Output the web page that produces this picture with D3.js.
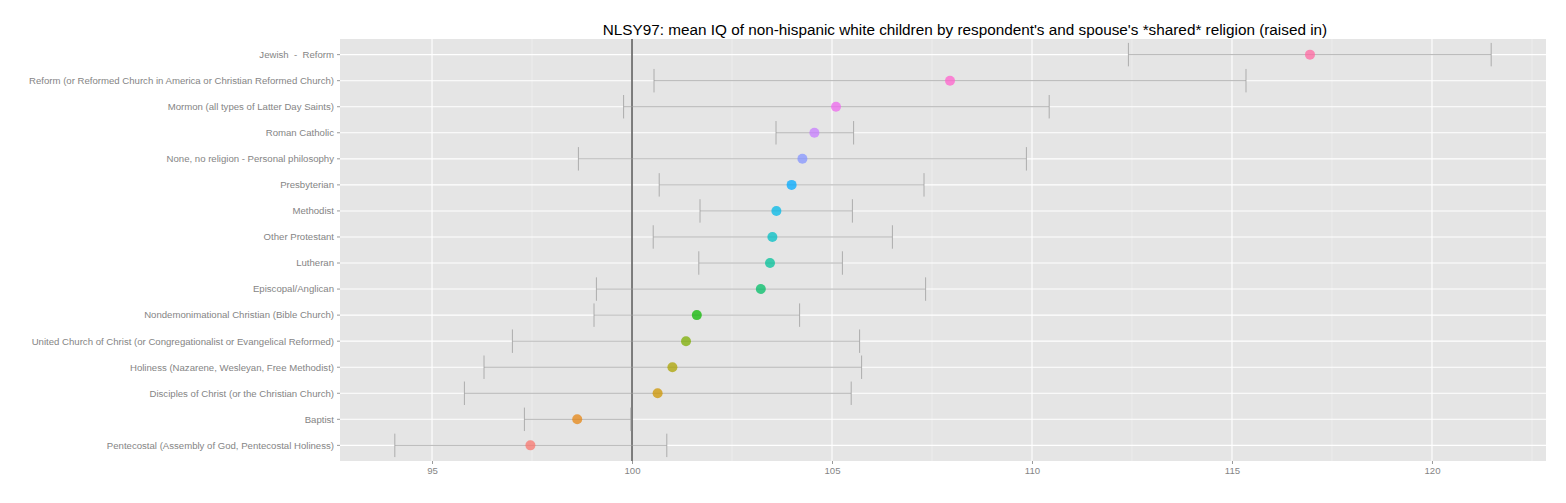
<!DOCTYPE html>
<html>
<head>
<meta charset="utf-8">
<script src="https://cdn.jsdelivr.net/npm/d3@7"></script>
<style>
body{margin:0;background:#fff;}
text{font-family:"Liberation Sans",Arial,sans-serif;white-space:pre;}
</style>
</head>
<body>
<svg id="chart" width="1566" height="503"></svg>
<script>
// religions ordered bottom to top (by mean IQ)
var religions = [
  "Pentecostal (Assembly of God, Pentecostal Holiness)",
  "Baptist",
  "Disciples of Christ (or the Christian Church)",
  "Holiness (Nazarene, Wesleyan, Free Methodist)",
  "United Church of Christ (or Congregationalist or Evangelical Reformed)",
  "Nondemonimational Christian (Bible Church)",
  "Episcopal/Anglican",
  "Lutheran",
  "Other Protestant",
  "Methodist",
  "Presbyterian",
  "None, no religion - Personal philosophy",
  "Roman Catholic",
  "Mormon (all types of Latter Day Saints)",
  "Reform (or Reformed Church in America or Christian Reformed Church)",
  "Jewish  -  Reform"
];
var meanIQ = [97.46, 98.63, 100.64, 101.01, 101.35, 101.62, 103.22, 103.45, 103.51, 103.61, 103.99, 104.26, 104.56, 105.10, 107.95, 116.95];
var lowerIQ = [94.07, 97.31, 95.81, 96.30, 97.01, 99.05, 99.11, 101.67, 100.53, 101.70, 100.68, 98.66, 103.60, 99.79, 100.55, 112.41];
var upperIQ = [100.87, 99.97, 105.48, 105.74, 105.69, 104.19, 107.34, 105.26, 106.51, 105.51, 107.30, 109.86, 105.54, 110.43, 115.35, 121.48];
var xTicks = [95, 100, 105, 110, 115, 120];
var xMinor = [97.5, 102.5, 107.5, 112.5, 117.5, 122.5];
var refLine = 100;
var title = "NLSY97: mean IQ of non-hispanic white children by respondent's and spouse's *shared* religion (raised in)";

var rows = religions.map(function(r, i){
  return {name: r, mean: meanIQ[i], lo: lowerIQ[i], hi: upperIQ[i], idx: i};
});

var svg = d3.select("#chart");
var pLeft = 340, pRight = 1546, pTop = 39, pBottom = 461;

// x range with ggplot style 5% expansion
var lo = d3.min(lowerIQ), hi = d3.max(upperIQ), pad = (hi - lo) * 0.05;
var x = d3.scaleLinear().domain([lo - pad, hi + pad]).range([pLeft, pRight]);

// discrete y with 0.6 unit expansion
var n = religions.length;
var y = d3.scaleLinear().domain([-0.6, n - 1 + 0.6]).range([pBottom, pTop]);

// hue palette like ggplot (polar LUV, c=100, l=65)
function hclLuv(h, c, l){
  var Xn = 95.047, Yn = 100, Zn = 108.883;
  var un = 4 * Xn / (Xn + 15 * Yn + 3 * Zn), vn = 9 * Yn / (Xn + 15 * Yn + 3 * Zn);
  var hr = h * Math.PI / 180, u = c * Math.cos(hr), v = c * Math.sin(hr);
  var Y = Yn * Math.pow((l + 16) / 116, 3);
  var up = u / (13 * l) + un, vp = v / (13 * l) + vn;
  var X = Y * 9 * up / (4 * vp), Z = Y * (12 - 3 * up - 20 * vp) / (4 * vp);
  X /= 100; Y /= 100; Z /= 100;
  var r = 3.2404542 * X - 1.5371385 * Y - 0.4985314 * Z;
  var g = -0.9692660 * X + 1.8760108 * Y + 0.0415560 * Z;
  var b = 0.0556434 * X - 0.2040259 * Y + 1.0572252 * Z;
  function gam(t){ t = t <= 0.0031308 ? 12.92 * t : 1.055 * Math.pow(t, 1 / 2.4) - 0.055; return Math.max(0, Math.min(255, Math.round(t * 255))); }
  return d3.rgb(gam(r), gam(g), gam(b)).toString();
}
var color = function(i){ return hclLuv(15 + 360 * i / n, 100, 65); };

svg.append("rect").attr("x", pLeft).attr("y", pTop).attr("width", pRight - pLeft).attr("height", pBottom - pTop).attr("fill", "#E5E5E5");

// minor grid
svg.selectAll("line.minor").data(xMinor.filter(function(d){ return x(d) < pRight; })).enter().append("line")
  .attr("x1", function(d){ return x(d); }).attr("x2", function(d){ return x(d); })
  .attr("y1", pTop).attr("y2", pBottom).attr("stroke", "#F2F2F2").attr("stroke-width", 0.6);

// major grid
svg.selectAll("line.majx").data(xTicks).enter().append("line")
  .attr("x1", function(d){ return x(d); }).attr("x2", function(d){ return x(d); })
  .attr("y1", pTop).attr("y2", pBottom).attr("stroke", "#fff").attr("stroke-width", 1.1);
svg.selectAll("line.majy").data(rows).enter().append("line")
  .attr("x1", pLeft).attr("x2", pRight)
  .attr("y1", function(d){ return y(d.idx); }).attr("y2", function(d){ return y(d.idx); })
  .attr("stroke", "#fff").attr("stroke-width", 1.1);

// reference line at 100
svg.append("line").attr("x1", x(refLine)).attr("x2", x(refLine)).attr("y1", pTop).attr("y2", pBottom)
  .attr("stroke", "#555").attr("stroke-width", 1.5);

// error bars
var capH = (y(0) - y(1)) * 0.9 / 2;
var eb = svg.append("g").attr("stroke", "#999").attr("stroke-opacity", 0.75).attr("stroke-width", 1);
eb.selectAll("line.bar").data(rows).enter().append("line")
  .attr("x1", function(d){ return x(d.lo); }).attr("x2", function(d){ return x(d.hi); })
  .attr("y1", function(d){ return y(d.idx); }).attr("y2", function(d){ return y(d.idx); });
eb.selectAll("line.capl").data(rows).enter().append("line")
  .attr("x1", function(d){ return x(d.lo); }).attr("x2", function(d){ return x(d.lo); })
  .attr("y1", function(d){ return y(d.idx) - capH; }).attr("y2", function(d){ return y(d.idx) + capH; });
eb.selectAll("line.caph").data(rows).enter().append("line")
  .attr("x1", function(d){ return x(d.hi); }).attr("x2", function(d){ return x(d.hi); })
  .attr("y1", function(d){ return y(d.idx) - capH; }).attr("y2", function(d){ return y(d.idx) + capH; });

// points
svg.selectAll("circle").data(rows).enter().append("circle")
  .attr("cx", function(d){ return x(d.mean); }).attr("cy", function(d){ return y(d.idx); })
  .attr("r", 5).attr("fill", function(d){ return color(d.idx); }).attr("fill-opacity", 0.75);

// y axis labels and ticks
svg.selectAll("line.yt").data(rows).enter().append("line")
  .attr("x1", pLeft - 3).attr("x2", pLeft)
  .attr("y1", function(d){ return y(d.idx); }).attr("y2", function(d){ return y(d.idx); })
  .attr("stroke", "#7f7f7f").attr("stroke-width", 0.8);
svg.selectAll("text.yl").data(rows).enter().append("text")
  .attr("x", pLeft - 6).attr("y", function(d){ return y(d.idx); }).attr("dy", "0.35em")
  .attr("text-anchor", "end").attr("font-size", 9.6).attr("fill", "#858585")
  .attr("xml:space", "preserve")
  .text(function(d){ return d.name; });

// x axis
var xAxis = svg.append("g").attr("transform", "translate(0," + pBottom + ")")
  .call(d3.axisBottom(x).tickValues(xTicks).tickSize(3).tickPadding(3).tickFormat(d3.format("d")));
xAxis.select(".domain").remove();
xAxis.selectAll("line").attr("stroke", "#7f7f7f").attr("stroke-width", 0.8);
xAxis.selectAll("text").attr("font-size", 9.6).attr("fill", "#858585").attr("font-family", "Liberation Sans, Arial, sans-serif");

// title
svg.append("text").attr("x", 965).attr("y", 35).attr("text-anchor", "middle")
  .attr("font-size", 15.3).attr("fill", "#000").text(title);
</script>
</body>
</html>
